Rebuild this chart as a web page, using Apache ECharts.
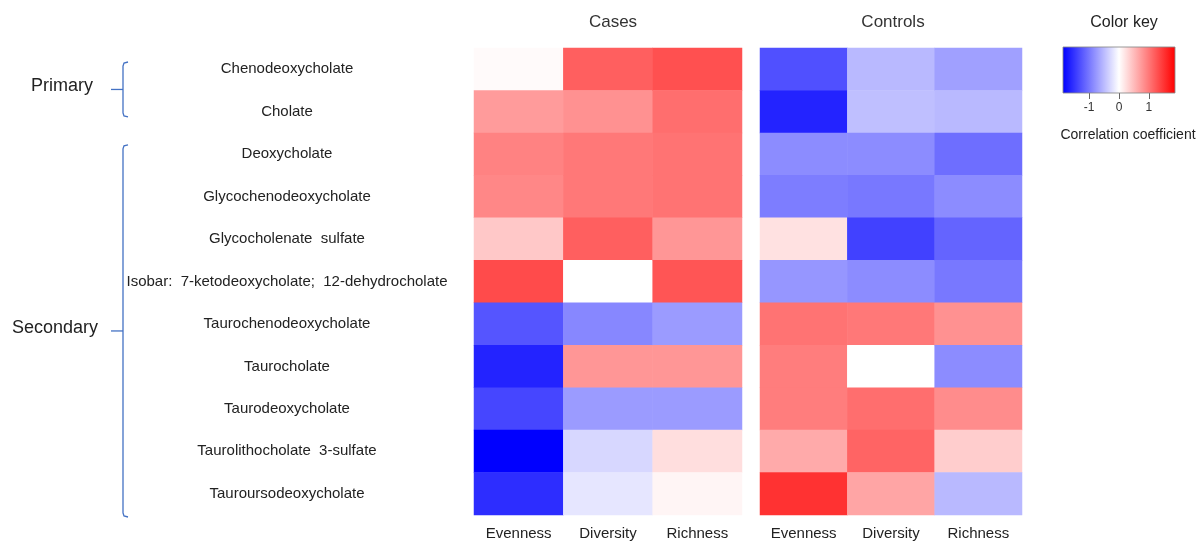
<!DOCTYPE html>
<html><head><meta charset="utf-8">
<script src="https://cdn.jsdelivr.net/npm/echarts@6/dist/echarts.min.js"></script>
<style>html,body{margin:0;padding:0;background:#fff}#c{width:1199px;height:542px}</style>
</head><body><div id="c"></div>
<script>
const rows = ['Chenodeoxycholate','Cholate','Deoxycholate','Glycochenodeoxycholate','Glycocholenate  sulfate','Isobar:  7-ketodeoxycholate;  12-dehydrocholate','Taurochenodeoxycholate','Taurocholate','Taurodeoxycholate','Taurolithocholate  3-sulfate','Tauroursodeoxycholate'];
const cols = ['Evenness','Diversity','Richness'];
const panels = ['Cases','Controls'];
const groups = ['Primary','Secondary'];
const groupSizes = [2, 9];
// correlation coefficients, one array per column, rows in order above
const casesEvenness  = [0.04, 0.73, 0.92, 0.88, 0.40, 1.32, -1.25, -1.61, -1.36, -1.87, -1.54];
const casesDiversity = [1.17, 0.81, 0.99, 0.99, 1.17, 0.00, -0.88, 0.77, -0.73, -0.29, -0.18];
const casesRichness  = [1.28, 1.06, 1.03, 1.03, 0.77, 1.25, -0.73, 0.77, -0.73, 0.24, 0.07];
const ctrlEvenness   = [-1.28, -1.61, -0.84, -0.95, 0.22, -0.77, 1.03, 0.95, 0.95, 0.62, 1.50];
const ctrlDiversity  = [-0.51, -0.47, -0.84, -0.99, -1.39, -0.84, 0.99, 0.00, 1.06, 1.14, 0.66];
const ctrlRichness   = [-0.70, -0.51, -1.06, -0.84, -1.14, -0.99, 0.81, -0.84, 0.84, 0.37, -0.51];
const keyTicks = [-1, 0, 1];
const keyRange = [-1.87, 1.87];

function toCells(colArrays){
  const out=[];
  colArrays.forEach((arr,ci)=>arr.forEach((v,ri)=>out.push([ci,ri,v])));
  return out;
}
const casesData = toCells([casesEvenness,casesDiversity,casesRichness]);
const ctrlData = toCells([ctrlEvenness,ctrlDiversity,ctrlRichness]);

const FONT = "'Liberation Sans', Arial, sans-serif";
const chart = echarts.init(document.getElementById('c'), null, {renderer:'canvas'});
const catX = (gi)=>({type:'category',gridIndex:gi,data:cols,axisLine:{show:false},axisTick:{show:false},
  axisLabel:{color:'#222',fontSize:15,fontFamily:FONT,margin:11},splitLine:{show:false}});
const catY = (gi,show)=>({type:'category',gridIndex:gi,data:rows,inverse:true,axisLine:{show:false},axisTick:{show:false},
  axisLabel:{show:show,color:'#222',fontSize:15,fontFamily:FONT,align:'center',margin:187},splitLine:{show:false}});

chart.setOption({
  animation:false,
  backgroundColor:'#fff',
  title:[
    {text:panels[0],left:608,top:9,textAlign:'center',textStyle:{fontSize:17,fontWeight:'normal',color:'#333',fontFamily:FONT}},
    {text:panels[1],left:888,top:9,textAlign:'center',textStyle:{fontSize:17,fontWeight:'normal',color:'#333',fontFamily:FONT}},
    {text:'Color key',left:1119,top:10,textAlign:'center',textStyle:{fontSize:16,fontWeight:'normal',color:'#222',fontFamily:FONT}},
    {text:'Correlation coefficient',left:1123,top:123,textAlign:'center',textStyle:{fontSize:14,fontWeight:'normal',color:'#222',fontFamily:FONT}}
  ],
  grid:[
    {left:474,width:268,top:48,height:467},
    {left:760,width:262,top:48,height:467},
    {left:1063,width:112,top:47,height:46}
  ],
  xAxis:[catX(0),catX(1),
    {type:'value',gridIndex:2,min:keyRange[0],max:keyRange[1],axisLine:{show:false},splitLine:{show:false},
     axisTick:{show:true,customValues:keyTicks,length:6,lineStyle:{color:'#666'}},
     axisLabel:{customValues:keyTicks,fontSize:12,color:'#333',fontFamily:FONT,margin:9}}],
  yAxis:[catY(0,true),catY(1,false),
    {type:'value',gridIndex:2,min:0,max:1,show:false}],
  visualMap:{type:'continuous',show:false,min:keyRange[0],max:keyRange[1],dimension:2,seriesIndex:[0,1],
    inRange:{color:['#0000ff','#ffffff','#ff0000']}},
  series:[
    {type:'heatmap',xAxisIndex:0,yAxisIndex:0,data:casesData,itemStyle:{borderWidth:0}},
    {type:'heatmap',xAxisIndex:1,yAxisIndex:1,data:ctrlData,itemStyle:{borderWidth:0}},
    {type:'custom',xAxisIndex:2,yAxisIndex:2,data:[[keyRange[0],keyRange[1]]],
     renderItem:function(params,api){
       const p0=api.coord([api.value(0),0]);
       const p1=api.coord([api.value(1),1]);
       return {type:'rect',shape:{x:p0[0],y:p1[1],width:p1[0]-p0[0],height:p0[1]-p1[1]},
         style:{fill:new echarts.graphic.LinearGradient(0,0,1,0,[{offset:0,color:'#0000ff'},{offset:0.5,color:'#ffffff'},{offset:1,color:'#ff0000'}]),
         stroke:'#888',lineWidth:0.5}};
     }}
  ]
});

// group brackets, positioned from the row axis
function drawBrackets(){
  const els=[];
  let start=0;
  const bx=123;
  groups.forEach((g,gi)=>{
    const end=start+groupSizes[gi]-1;
    const yTop=chart.convertToPixel({yAxisIndex:0},rows[start]);
    const yBot=chart.convertToPixel({yAxisIndex:0},rows[end]);
    const half=(chart.convertToPixel({yAxisIndex:0},rows[1])-chart.convertToPixel({yAxisIndex:0},rows[0]))/2;
    const t = gi===0 ? yTop-half+14 : yTop-half+12;
    const b = gi===0 ? yBot+half-16 : yBot+half+2;
    const mid=(t+b)/2;
    els.push({type:'polyline',shape:{points:[[bx+5,t],[bx+1,t+1],[bx,t+4],[bx,b-4],[bx+1,b-1],[bx+5,b]]},
      style:{stroke:'#4472c4',lineWidth:1.3,fill:null}});
    els.push({type:'line',shape:{x1:bx-12,y1:mid,x2:bx,y2:mid},style:{stroke:'#4472c4',lineWidth:1.3}});
    els.push({type:'text',x: gi===0?62:55,y:mid-3,style:{text:g,fontSize:18,fontFamily:FONT,fill:'#222',align:'center',verticalAlign:'middle'}});
    start=end+1;
  });
  chart.setOption({graphic:els});
}
drawBrackets();
</script></body></html>
